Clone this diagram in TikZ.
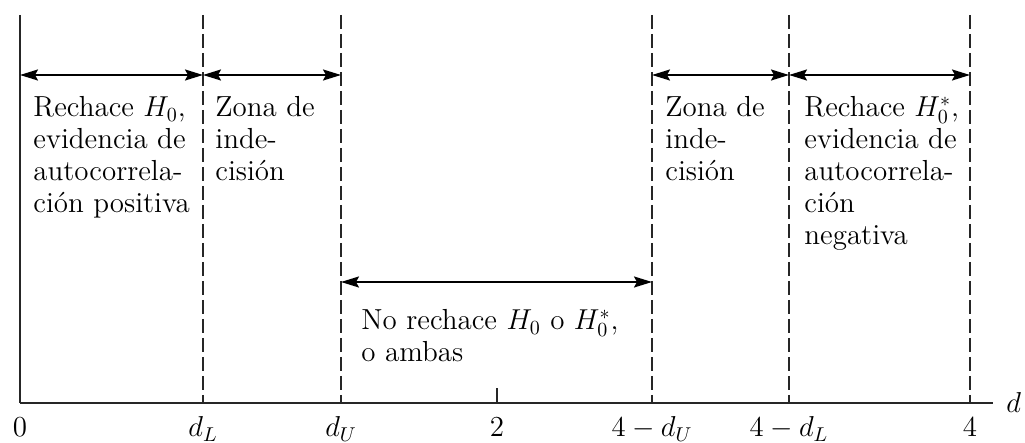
\documentclass[tikz,border=0pt]{standalone}
\usetikzlibrary{arrows.meta}

\begin{document}
\begin{tikzpicture}[
  x=0.5pt, y=-0.5pt,
  font=\fontsize{14.5}{16}\selectfont,
  >={Stealth[length=9pt, width=5.5pt, inset=1.5pt]},
  bound/.style={line width=0.9pt, draw=black!85},
  limit/.style={bound, dash pattern=on 7pt off 2.5pt},
  span/.style={<->, line width=1pt},
  zone/.style={anchor=north west, align=left, inner sep=0pt},
  ticklab/.style={anchor=base, inner sep=0pt},
  ]
\useasboundingbox (0,0) rectangle (1025,443);

% positions along the d axis
\foreach \n/\x in {zero/20, dl/203, du/341, mid/497, fdu/652, fdl/789, four/970} {
  \coordinate (\n) at (\x,403);
  \coordinate (\n-top) at (\x,15);
}
\coordinate (mid-tick) at (497,388);
\coordinate (axis-end) at (993,403);
\coordinate (upper) at (0,75);
\coordinate (lower) at (0,282);
\coordinate (labels) at (0,437);

% boundaries and axis
\draw[bound] (zero-top) -- (zero);
\foreach \n in {dl, du, fdu, fdl, four}
  \draw[limit] (\n-top) -- (\n);
\draw[bound] (zero) -- (axis-end);
\draw[bound] (mid) -- (mid-tick);

% regions
\draw[span] (zero |- upper) -- (dl |- upper);
\draw[span] (dl |- upper) -- (du |- upper);
\draw[span] (fdu |- upper) -- (fdl |- upper);
\draw[span] (fdl |- upper) -- (four |- upper);
\draw[span] (du |- lower) -- (fdu |- lower);

\node[zone] (rej-pos) at (33,94) {\strut Rechace $H_0$,\\evidencia de\\autocorrela-\\ción positiva};
\node[zone] (indec-l) at (215,94) {\strut Zona de\\inde-\\cisión};
\node[zone] (indec-r) at (665,94) {\strut Zona de\\inde-\\cisión};
\node[zone] (rej-neg) at (804,94) {\strut Rechace $H_0^{*}$,\\evidencia de\\autocorrela-\\ción\\negativa};
\node[zone] (accept) at (361,307) {\strut No rechace $H_0$ o $H_0^{*}$,\\o ambas};

% tick labels
\foreach \n/\t in {zero/0, dl/$d_L$, du/$d_U$, mid/2, fdu/$4-d_U$, fdl/$4-d_L$, four/4}
  \node[ticklab] (lab-\n) at (\n |- labels) {\t};
\node[anchor=base west, inner sep=0pt] (d-lab) at (1006,413) {$d$};
\end{tikzpicture}
\end{document}
